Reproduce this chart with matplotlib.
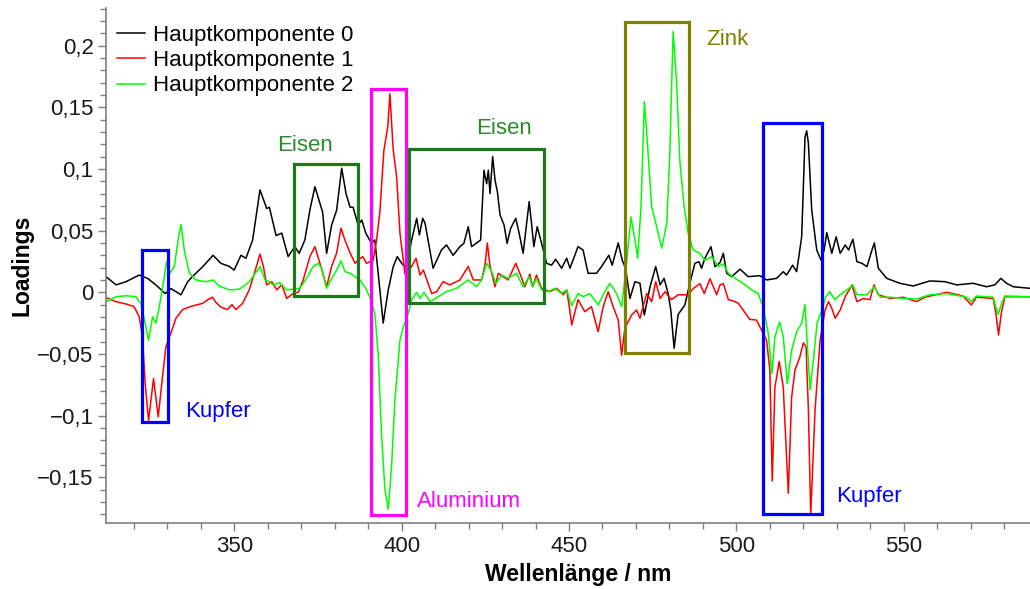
import matplotlib
matplotlib.use("Agg")
import matplotlib.pyplot as plt
from matplotlib.patches import Rectangle
from matplotlib.ticker import MultipleLocator, FuncFormatter

plt.rcParams['font.family'] = ['Liberation Sans', 'DejaVu Sans']

# ------------------------
# Loadings der Hauptkomponenten (Wellenlänge in nm, Loading)
wl_0 = [311.7, 314.7, 317.7, 321.6, 324.1, 326.6, 329.4, 331.1, 334.1, 336.1,
        337.6, 340.6, 343.7, 346.0, 348.5, 350.0, 352.0, 353.5, 355.5, 357.7,
        359.7, 360.5, 362.5, 364.2, 366.1, 368.1, 369.4, 371.1, 372.6, 374.1,
        375.6, 376.4, 377.6, 379.1, 380.6, 382.1, 383.4, 384.6, 385.5, 387.0,
        388.1, 389.3, 391.0, 392.0, 393.0, 394.5, 396.0, 397.5, 398.7, 400.0,
        401.5, 402.8, 404.5, 405.3, 406.3, 407.0, 409.4, 411.9, 413.4, 415.4,
        417.4, 418.6, 419.9, 420.9, 423.6, 424.6, 425.4, 425.9, 426.4, 427.2,
        427.9, 428.6, 429.4, 430.6, 431.5, 432.6, 434.1, 435.1, 436.3, 438.1,
        438.8, 439.5, 440.5, 441.8, 443.3, 444.8, 446.0, 447.8, 449.3, 450.3,
        452.7, 454.2, 455.7, 458.2, 459.7, 461.9, 462.9, 464.7, 465.9, 466.9,
        468.2, 469.7, 471.2, 472.5, 474.2, 475.9, 477.2, 478.4, 479.6, 480.4,
        481.4, 482.6, 484.6, 486.1, 487.6, 488.8, 489.6, 490.6, 492.4, 493.6,
        495.1, 496.1, 497.1, 498.6, 501.1, 503.5, 507.0, 509.0, 512.0, 514.0,
        515.0, 516.8, 518.0, 519.5, 520.5, 521.0, 521.5, 522.5, 524.0, 525.3,
        526.2, 527.0, 528.5, 529.8, 531.0, 532.5, 533.5, 534.8, 536.0, 537.5,
        539.0, 540.5, 541.2, 542.4, 544.9, 548.8, 552.8, 557.8, 562.3, 565.8,
        570.7, 574.7, 577.2, 579.0, 580.7, 582.7, 587.7]
hk_0 = [0.0127, 0.006, 0.0086, 0.014, 0.0113, 0.006, -0.001, 0.003, -0.002, 0.0086,
        0.013, 0.0208, 0.030, 0.0235, 0.021, 0.018, 0.030, 0.0276, 0.0424, 0.083,
        0.068, 0.069, 0.046, 0.048, 0.029, 0.037, 0.0316, 0.0424, 0.0667, 0.0856,
        0.072, 0.065, 0.0316, 0.0546, 0.0667, 0.1006, 0.080, 0.069, 0.069, 0.0546,
        0.0586, 0.048, 0.0397, 0.0424, 0.0154, -0.025, 0.0019, 0.0208, 0.0289, 0.0235,
        0.0195, 0.040, 0.060, 0.0465, 0.060, 0.056, 0.0195, 0.0343, 0.0384, 0.030,
        0.037, 0.0397, 0.0532, 0.037, 0.0424, 0.099, 0.088, 0.099, 0.080, 0.110,
        0.091, 0.0816, 0.0627, 0.0546, 0.0397, 0.052, 0.060, 0.048, 0.0316, 0.0735,
        0.056, 0.037, 0.0532, 0.0397, 0.0235, 0.022, 0.0268, 0.0195, 0.0276, 0.0195,
        0.037, 0.0343, 0.0154, 0.0154, 0.0208, 0.030, 0.022, 0.040, 0.026, 0.0195,
        -0.005, 0.0086, 0.0073, -0.0184, 0.0045, 0.0208, 0.006, 0.0113, -0.001, -0.0143,
        -0.0454, -0.018, -0.0103, 0.0073, 0.0235, 0.0248, 0.0195, 0.0276, 0.037, 0.0208,
        0.024, 0.0316, 0.0154, 0.0127, 0.0187, 0.0127, 0.0135, 0.010, 0.0113, 0.0167,
        0.014, 0.022, 0.0167, 0.045, 0.126, 0.131, 0.121, 0.0667, 0.0343, 0.026,
        0.0343, 0.0483, 0.0316, 0.045, 0.0316, 0.0384, 0.0343, 0.043, 0.0248, 0.0235,
        0.0208, 0.0343, 0.040, 0.0195, 0.0113, 0.0073, 0.0051, 0.0092, 0.0086, 0.006,
        0.0073, 0.0045, 0.006, 0.0113, 0.0073, 0.0045, 0.0032]

wl_1 = [311.7, 314.7, 317.7, 320.1, 321.6, 322.6, 323.4, 324.4, 325.9, 327.3,
        328.6, 329.6, 331.1, 332.6, 334.6, 337.6, 340.6, 342.1, 343.5, 344.5,
        346.0, 348.0, 349.3, 350.5, 352.5, 354.5, 356.3, 357.7, 358.7, 359.7,
        361.2, 362.7, 364.2, 365.7, 367.6, 369.1, 370.6, 372.6, 374.1, 375.6,
        377.6, 379.1, 380.6, 381.9, 383.1, 384.6, 386.1, 387.0, 388.4, 389.5,
        391.5, 392.5, 393.5, 394.7, 395.5, 395.9, 396.5, 397.5, 398.5, 399.5,
        401.0, 401.7, 403.0, 404.3, 405.5, 406.5, 409.0, 410.5, 412.4, 414.4,
        417.4, 419.9, 421.4, 423.9, 424.9, 425.6, 426.4, 427.9, 428.9, 430.3,
        431.8, 434.1, 435.3, 436.8, 438.3, 439.1, 440.3, 441.8, 444.3, 446.3,
        448.3, 449.3, 450.1, 450.8, 452.7, 454.7, 456.7, 458.7, 460.2, 461.7,
        463.2, 464.7, 465.7, 466.7, 468.7, 470.2, 471.2, 473.2, 474.7, 475.9,
        477.2, 478.7, 480.6, 482.6, 485.6, 487.1, 489.1, 490.4, 492.1, 494.1,
        495.1, 496.1, 497.6, 499.1, 500.6, 502.0, 504.0, 506.0, 507.5, 509.0,
        510.0, 510.7, 511.5, 512.8, 514.0, 515.5, 516.5, 517.5, 519.0, 520.0,
        520.8, 521.5, 522.2, 523.5, 525.0, 526.5, 527.5, 528.5, 529.5, 531.0,
        532.5, 534.5, 536.0, 538.0, 539.9, 541.1, 542.4, 545.9, 549.8, 553.8,
        556.3, 562.8, 567.7, 570.2, 571.7, 576.7, 577.5, 578.3, 579.2, 580.2,
        587.7]
hk_1 = [-0.0044, -0.0076, -0.0095, -0.0117, -0.0198, -0.036, -0.074, -0.104, -0.070, -0.101,
        -0.068, -0.044, -0.033, -0.021, -0.014, -0.011, -0.009, -0.006, -0.004, -0.008,
        -0.012, -0.014, -0.010, -0.014, -0.009, 0.002, 0.018, 0.031, 0.021, 0.006,
        0.0086, 0.002, 0.006, -0.005, -0.001, 0.000, 0.010, 0.029, 0.037, 0.0235,
        0.0045, 0.021, 0.032, 0.052, 0.042, 0.032, 0.0235, 0.026, 0.029, 0.0235,
        0.026, 0.042, 0.065, 0.115, 0.128, 0.135, 0.161, 0.115, 0.094, 0.048,
        0.015, 0.017, 0.021, 0.0276, 0.014, 0.018, -0.001, 0.0005, 0.0086, 0.006,
        0.010, 0.021, 0.010, 0.010, 0.022, 0.040, 0.021, 0.0045, 0.0154, 0.0127,
        0.010, 0.0235, 0.0154, 0.0045, 0.0148, 0.0045, 0.014, 0.0032, 0.0005, 0.0032,
        -0.002, 0.002, -0.012, -0.0265, -0.006, -0.0157, -0.0117, -0.032, -0.0117, 0.0005,
        -0.0117, -0.0225, -0.051, -0.029, -0.0184, -0.0144, -0.021, -0.001, -0.0076, 0.0086,
        -0.005, 0.0005, -0.006, -0.002, -0.002, 0.003, 0.007, -0.001, 0.011, -0.002,
        0.006, 0.007, -0.006, -0.007, -0.009, -0.0144, -0.022, -0.0225, -0.0306, -0.0387,
        -0.063, -0.153, -0.077, -0.056, -0.077, -0.163, -0.085, -0.063, -0.052, -0.041,
        -0.044, -0.095, -0.1806, -0.095, -0.039, -0.0144, -0.0076, -0.013, -0.021, -0.0144,
        -0.0036, 0.006, -0.0076, -0.005, -0.006, 0.006, -0.002, -0.005, -0.004, -0.0076,
        -0.004, 0.000, -0.003, -0.0103, -0.004, -0.005, -0.017, -0.0346, -0.0157, -0.0036,
        -0.0036]

wl_2 = [311.7, 314.7, 317.7, 320.6, 322.1, 323.4, 324.4, 325.6, 326.6, 327.6,
        328.8, 329.8, 330.8, 332.1, 333.4, 334.1, 335.1, 336.6, 338.6, 341.5,
        343.7, 345.5, 348.5, 351.5, 354.5, 356.3, 357.7, 359.2, 360.2, 361.6,
        363.6, 365.6, 367.6, 369.6, 371.6, 373.6, 375.1, 376.1, 377.6, 379.1,
        380.6, 381.9, 383.1, 384.6, 386.1, 387.5, 389.0, 390.5, 392.0, 393.0,
        394.0, 395.0, 396.0, 397.0, 398.0, 399.5, 400.5, 402.0, 403.0, 404.5,
        405.5, 406.7, 408.5, 410.9, 413.4, 416.4, 419.9, 422.4, 423.9, 425.4,
        426.9, 428.2, 429.9, 431.8, 434.3, 436.3, 438.1, 439.1, 440.3, 441.8,
        443.8, 445.8, 447.8, 449.3, 450.8, 452.7, 454.2, 456.2, 458.7, 460.7,
        462.2, 464.2, 465.7, 466.9, 468.5, 469.7, 470.5, 471.5, 472.5, 473.5,
        474.7, 476.2, 477.7, 479.2, 480.1, 481.1, 482.1, 483.1, 484.4, 485.6,
        487.1, 489.1, 490.6, 492.6, 494.6, 496.1, 497.6, 499.6, 502.0, 504.5,
        506.5, 508.0, 509.5, 510.6, 511.5, 512.9, 514.0, 515.2, 516.5, 518.0,
        519.5, 520.5, 521.1, 522.0, 523.0, 524.1, 525.5, 526.7, 527.9, 529.4,
        531.0, 533.0, 534.8, 536.0, 539.0, 541.2, 543.0, 545.9, 549.8, 553.8,
        557.8, 562.8, 568.8, 570.2, 571.7, 576.7, 577.5, 578.2, 579.2, 580.2,
        587.7]
hk_2 = [-0.0076, -0.0036, -0.0028, -0.0036, -0.009, -0.025, -0.039, -0.020, -0.025, -0.012,
        0.007, 0.025, 0.0154, 0.021, 0.045, 0.055, 0.034, 0.0154, 0.010, 0.0086,
        0.010, 0.005, 0.002, 0.0024, 0.0086, 0.0154, 0.021, 0.010, 0.009, 0.006,
        0.0078, 0.002, 0.0025, 0.0032, 0.0113, 0.021, 0.0235, 0.0195, 0.0032, 0.0113,
        0.018, 0.0256, 0.0167, 0.0154, 0.0127, 0.010, 0.0045, -0.0036, -0.017, -0.050,
        -0.115, -0.160, -0.176, -0.141, -0.087, -0.039, -0.028, -0.017, -0.006, 0.000,
        -0.005, 0.000, -0.0076, -0.0036, 0.0005, 0.0032, 0.010, 0.0045, 0.010, 0.0235,
        0.0167, 0.0073, 0.014, 0.0113, 0.0154, 0.0045, 0.0127, 0.0045, 0.0113, 0.002,
        0.0005, 0.0032, -0.001, 0.002, -0.011, -0.001, -0.0036, -0.001, -0.0103, 0.0005,
        0.0073, -0.001, -0.0117, 0.0154, 0.061, 0.0424, 0.0276, 0.069, 0.1546, 0.118,
        0.069, 0.053, 0.0357, 0.056, 0.1127, 0.2114, 0.172, 0.107, 0.069, 0.048,
        0.0343, 0.0316, 0.026, 0.0289, 0.0208, 0.023, 0.0154, 0.0113, 0.0073, 0.002,
        -0.001, -0.0117, -0.033, -0.066, -0.036, -0.024, -0.036, -0.074, -0.047, -0.032,
        -0.025, -0.010, -0.039, -0.079, -0.055, -0.025, -0.0144, -0.0036, 0.0005, -0.006,
        -0.002, 0.002, 0.006, -0.002, -0.002, 0.0045, -0.004, -0.004, -0.005, -0.0055,
        -0.002, -0.001, -0.004, -0.0076, -0.003, -0.004, -0.012, -0.018, -0.009, -0.003,
        -0.0036]

# ------------------------
# Markierte Bereiche: Element, Wellenlänge von/bis, Loading von/bis
regions = [
    ("Kupfer", 322.5, 330.3, -0.1054, 0.0343),
    ("Eisen", 367.8, 387.0, -0.0028, 0.1038),
    ("Aluminium", 391.0, 401.3, -0.1806, 0.1646),
    ("Eisen", 402.2, 442.4, -0.0089, 0.1162),
    ("Zink", 466.7, 485.8, -0.0490, 0.2195),
    ("Kupfer", 507.9, 525.5, -0.1800, 0.1370),
]
region_colors = {"Kupfer": "#0000ff", "Eisen": "#1a7a1a",
                 "Aluminium": "#ff00ff", "Zink": "#808000"}
label_colors = {"Kupfer": "#0000ff", "Eisen": "#2b8a2b",
                "Aluminium": "#ff00ff", "Zink": "#808000"}
# Beschriftung: Text, x, y (Grundlinie), Ausrichtung
region_labels = [
    ("Kupfer", 335.3, -0.1014, "left"),
    ("Eisen", 371.1, 0.1146, "center"),
    ("Aluminium", 404.5, -0.1739, "left"),
    ("Eisen", 430.6, 0.1281, "center"),
    ("Zink", 490.9, 0.2006, "left"),
    ("Kupfer", 529.9, -0.1703, "left"),
]

# ------------------------
# Plot
fig = plt.figure(figsize=(10.30, 5.89), dpi=100)
ax = fig.add_axes([106 / 1030, 66 / 589, 924 / 1030, 514.7 / 589])

ax.plot(wl_0, hk_0, color="black", lw=1.1, label="Hauptkomponente 0")
ax.plot(wl_1, hk_1, color="#ff0000", lw=1.1, label="Hauptkomponente 1")
ax.plot(wl_2, hk_2, color="#00ff00", lw=1.1, label="Hauptkomponente 2")

for name, x0, x1, y0, y1 in regions:
    ax.add_patch(Rectangle((x0, y0), x1 - x0, y1 - y0, fill=False,
                           edgecolor=region_colors[name], lw=2.3, zorder=5))

for name, x, y, ha in region_labels:
    ax.text(x, y, name, color=label_colors[name], fontsize=16,
            ha=ha, va="baseline", zorder=6)

ax.set_xlim(311.7, 587.7)
ax.set_ylim(-0.1871, 0.2303)

ax.xaxis.set_major_locator(MultipleLocator(50))
ax.xaxis.set_minor_locator(MultipleLocator(10))
ax.yaxis.set_major_locator(MultipleLocator(0.05))
ax.yaxis.set_minor_locator(MultipleLocator(0.01))


def komma(v, pos):
    if abs(v) < 1e-9:
        return "0"
    s = f"{v:.2f}".rstrip("0").rstrip(".")
    return s.replace(".", ",").replace("-", "\u2212")


ax.yaxis.set_major_formatter(FuncFormatter(komma))

for side in ("top", "right"):
    ax.spines[side].set_visible(False)
for side in ("left", "bottom"):
    ax.spines[side].set_color("#808080")
    ax.spines[side].set_linewidth(1.2)

ax.tick_params(which="major", length=6, width=1.0, color="#808080",
               labelsize=16, labelcolor="#1a1a1a", pad=3)
ax.tick_params(which="minor", length=4, width=1.0, color="#808080")

ax.set_xlabel("Wellenlänge / nm", fontsize=16.5, fontweight="bold")
ax.set_ylabel("Loadings", fontsize=16.5, fontweight="bold")
ax.xaxis.set_label_coords(0.511, -0.078)
ax.yaxis.set_label_coords(-0.078, 0.5)

ax.legend(loc="upper left", bbox_to_anchor=(117 / 1030, 1 - 25 / 589),
          bbox_transform=fig.transFigure, frameon=False, fontsize=16,
          handlelength=1.26, handletextpad=0.36, labelspacing=0.19,
          borderpad=0, borderaxespad=0)

fig.savefig("out.png", dpi=100)
